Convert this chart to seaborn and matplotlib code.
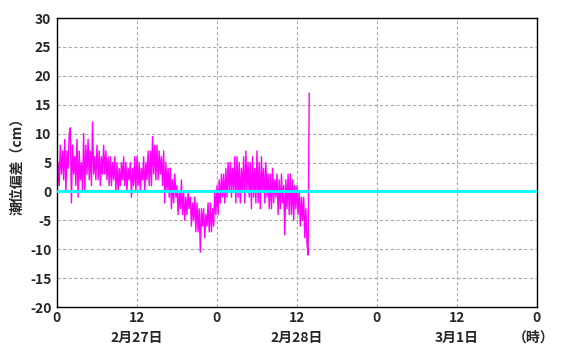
import matplotlib
matplotlib.use('Agg')
import matplotlib.pyplot as plt
import seaborn as sns
import numpy as np
import pandas as pd

# tide deviation (cm), read every 10 minutes from 2/27 0:00
deviation = [
    -2, 5, 1, 8, 3, 7,      2, 9, 0, 7, 4, 10,     11, -2, 8, 3, 6, 1,
    9, -1, 7, 2, 5, 0,      10, 0, 8, 3, 9, 2,     7, 1, 12, 3, 6, 2,
    8, 2, 7, 1, 6, 3,       8, 3, 7, 2, 6, 1,      6, 1, 5, 2, 6, 0,
    5, 0, 4, 1, 5, 2,       6, 1, 5, 0, 4, 2,      5, -1, 4, 1, 6, 0,
    6, 1, 5, 0, 4, 2,       6, 0, 5, 2, 7, 1,      7, 1, 9.5, 3, 8, 2,
    8, 2, 7, 3, 6, 1,       7, -2, 5, 0, 4, -1,    4, -3, 2, -2, 3, -1,
    1, -4, 0, -3, 2, -4,    0, -5, -1, -4, 0, -3,  -1, -6, -2, -5, -1, -7,
    -2, -7, -3, -10.5, -3, -6, -3, -8, -4, -6, -2, -7, -2, -7, -3, -6, 0, -4,
    1, -4, 2, -2, 3, -1,    3, -2, 4, -1, 5, 0,    5, -1, 4, 0, 6, -2,
    6, -1, 5, -2, 4, 0,     6, -2, 7, 0, 5, -1,    5, -3, 6, -1, 4, -2,
    7, -2, 5, -3, 6, 0,     4, -2, 5, -1, 3, -3,   3, -3, 4, -2, 2, -1,
    3, -4, 2, -3, 3, -2,    1, -7.5, 2, -3, 3, -4, 3, -4, 2, -5, 1, -3,
    1, -4, 0, -6, -1, -5,   -1, -8, -3, -9, -11, 17,
]
hours = [i / 6 for i in range(len(deviation))]

hour_ticks = [0, 12, 24, 36, 48, 60, 72]
hour_labels = ['0', '12', '0', '12', '0', '12', '0']
date_pos = [12, 36, 60, 71.5]
date_labels = ['2月27日', '2月28日', '3月1日', '（時）']
y_ticks = [-20, -15, -10, -5, 0, 5, 10, 15, 20, 25, 30]

sns.set_style('white')
plt.rcParams['font.family'] = ['Noto Sans CJK JP', 'DejaVu Sans']

df = pd.DataFrame({'hour': hours, 'dev': deviation})

fig = plt.figure(figsize=(5.75, 3.49), dpi=100)
ax = fig.add_axes([0.0991, 0.1203, 0.8348, 0.8281])

for v in y_ticks[1:-1]:
    ax.axhline(v, color='#aaaaaa', linestyle=(0, (3, 2)), linewidth=0.8, zorder=0)
for h in hour_ticks[1:-1]:
    ax.axvline(h, color='#aaaaaa', linestyle=(0, (3, 2)), linewidth=0.8, zorder=0)

sns.lineplot(data=df, x='hour', y='dev', ax=ax, color='#ff00ff', linewidth=1.0, zorder=2)
ax.axhline(0, color='#00ffff', linewidth=2, zorder=3)

ax.set_xlim(0, 72)
ax.set_ylim(-20, 30)
ax.set_xticks(hour_ticks)
ax.set_xticklabels(hour_labels, fontsize=10, fontweight='bold')
ax.set_xticks(np.arange(0, 73, 3), minor=True)
ax.tick_params(axis='x', which='both', direction='in', length=5, width=1, pad=3, color='black')
ax.set_yticks(y_ticks)
ax.set_yticklabels([str(v) for v in y_ticks], fontsize=10, fontweight='bold')
ax.tick_params(axis='y', length=0, pad=4)
ax.set_xlabel('')
ax.set_ylabel('潮位偏差（cm）', fontsize=10, fontweight='bold', labelpad=4)

for p, lab in zip(date_pos, date_labels):
    ax.text(p, -0.083, lab, transform=ax.get_xaxis_transform(), ha='center', va='top',
            fontsize=10, fontweight='bold')

for s in ax.spines.values():
    s.set_color('black')
    s.set_linewidth(1)

fig.savefig('out.png', dpi=100)
